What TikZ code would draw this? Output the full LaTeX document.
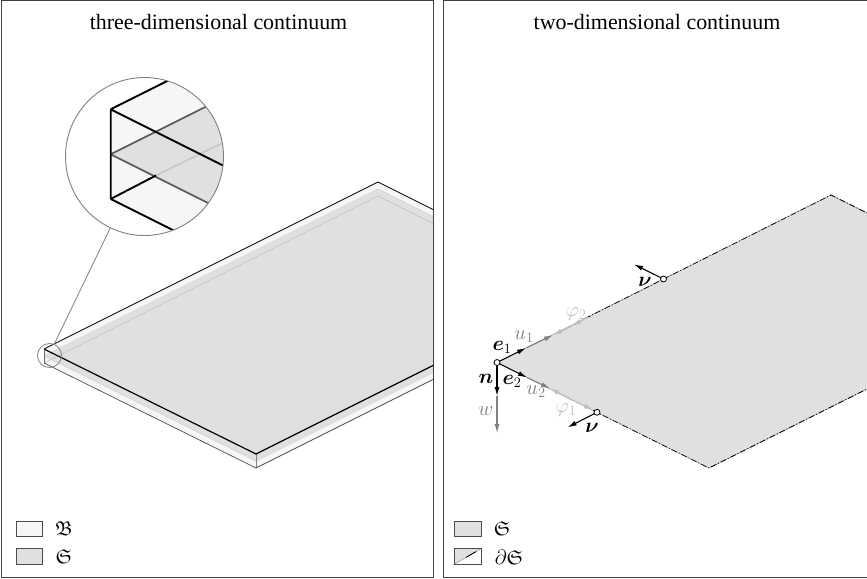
\documentclass[tikz,border=0pt]{standalone}
\usepackage{amsmath,amssymb}
\usepackage{fontspec}
\setmainfont{Liberation Serif}
\usetikzlibrary{arrows.meta}
\definecolor{surf}{HTML}{DFE0DF}
\definecolor{body}{HTML}{F6F6F6}
\tikzset{
  frame/.style={draw=black!75,line width=1pt},
  title/.style={font=\fontsize{22}{24}\selectfont,anchor=center,inner sep=0pt},
  lab/.style={font=\fontsize{20}{22}\selectfont,inner sep=0pt},
  legbox/.style={draw=black!70,line width=0.8pt},
  blk/.style={black,line width=1.1pt,-{Latex[length=9pt,width=5pt]}},
  gra/.style={black!50,line width=1.1pt,-{Latex[length=9pt,width=5pt]}},
  lgt/.style={black!25,line width=1.1pt,-{Latex[length=9pt,width=5pt]}},
  edgebase/.style={black!30,line width=0.7pt},
  edgedash/.style={black,line width=0.7pt,dash pattern=on 6pt off 2pt on 1pt off 2pt},
  hole/.style={circle,draw=black,fill=white,line width=0.8pt,inner sep=0pt,minimum size=6pt},
}
\begin{document}
\begin{tikzpicture}[x=1bp,y=-1bp]
\useasboundingbox (0,0) rectangle (867,579);
% left panel
\node[title] (t1) at (218.5,22) {three-dimensional continuum};
\begin{scope}
\clip (1,1) rectangle (433,577);
\coordinate (Tl) at (44,349); \coordinate (Tb) at (378,182); \coordinate (Tf) at (256,454);
\coordinate (Tr) at (433,209.5); \coordinate (Ts) at (433,365.5);
\coordinate (Ml) at (44,356); \coordinate (Mb) at (378,189); \coordinate (Mf) at (256,461);
\coordinate (Mr) at (433,216.5); \coordinate (Ms) at (433,372.5);
\coordinate (Bl) at (44,363); \coordinate (Bb) at (378,196); \coordinate (Bf) at (256,468);
\coordinate (Br) at (433,223.5); \coordinate (Bs) at (433,379.5);
\fill[body] (Tl)--(Tb)--(Tr)--(Bs)--(Bf)--(Bl)--cycle;
\fill[surf] (Ml)--(Mb)--(Mr)--(Ms)--(Mf)--cycle;
\draw[black!16,line width=0.7pt] (Ml)--(Mb)--(Mr) (Ml)--(Mf)--(Ms);
\draw[black!22,line width=0.7pt] (Bl)--(Bb)--(Br);
\draw[black!50,line width=0.7pt] (Tf)--(Bf);
\draw[black!70,line width=0.7pt] (Bl)--(Bf)--(Bs);
\draw[black,line width=0.8pt] (Tl)--(Tb)--(Tr);
\draw[black,line width=1.2pt] (Tl)--(Tf)--(Ts);
\draw[black!60,line width=0.7pt] (Tl)--(Bl);
\end{scope}
\coordinate (SC) at (49.5,355.5);
\coordinate (BC) at (144.5,156.5);
\draw[black!50,line width=0.8pt] (SC) circle[radius=12];
\draw[black!50,line width=0.8pt] (54.3,344) coordinate (La) -- (110.5,227.5) coordinate (Lb);
% magnified
\begin{scope}
\clip (BC) circle[radius=79];
\coordinate (a1) at (110.7,109.3); \coordinate (a2) at (110.7,154.3); \coordinate (a3) at (110.7,199);
\coordinate (b1) at (210.7,59.3); \coordinate (b2) at (210.7,104.3); \coordinate (b3) at (230,139.3);
\coordinate (c1) at (230,169); \coordinate (c2) at (230,214); \coordinate (c3) at (230,258.6);
\coordinate (x3) at (156,175.5);
\fill[white] (BC) circle[radius=79];
\fill[body] (a1)--(b1)--(240,59.3)--(240,264)--(c3)--(a3)--cycle;
\fill[surf] (a2)--(b2)--(240,100)--(240,220)--(c2)--cycle;
\draw[black!65,line width=1.7pt] (a2)--(b2) (a2)--(c2);
\draw[black!22,line width=1.6pt] (x3)--(b3);
\draw[black,line width=1.9pt] (a3)--(x3);
\draw[black,line width=1.9pt] (a1)--(b1) (a1)--(c1) (a1)--(a3) (a3)--(c3);
\end{scope}
\draw[black!50,line width=0.9pt] (BC) circle[radius=79];
\draw[frame] (1,1) rectangle (433,577);
% left legend
\draw[legbox,fill=body] (16,521) rectangle (42,536.5);
\draw[legbox,fill=surf] (16,548.5) rectangle (42,564.5);
\node[lab] (l1) at (64,529) {$\mathfrak{B}$};
\node[lab] (l2) at (64,557) {$\mathfrak{S}$};
% right panel
\node[title] (t2) at (657,22) {two-dimensional continuum};
\begin{scope}
\clip (443,1) rectangle (867,577);
\coordinate (P0) at (497,362.5); \coordinate (P1) at (831,195); \coordinate (P2) at (709,468);
\coordinate (P3) at (867,213); \coordinate (P4) at (867,389);
\fill[surf] (P0)--(P1)--(P3)--(P4)--(P2)--cycle;
\draw[edgebase] (P0)--(P1)--(P3) (P0)--(P2)--(P4);
\draw[edgedash] (585,318.5)--(P1)--(P3) (593,410.5)--(P2)--(P4);
\end{scope}
\draw[frame] (443,1)--(867,1) (443,1)--(443,577)--(867,577);
\coordinate (Nt) at (663.5,279); \coordinate (Nb) at (597,412.3);
\coordinate (Vt) at (634,264.3); \coordinate (Vb) at (567.7,427.3);
\coordinate (E1) at (526,348); \coordinate (E2) at (527,377.5);
\coordinate (U1) at (553,335); \coordinate (U2) at (550,388.5);
\coordinate (F1) at (572,326); \coordinate (F2) at (572,400);
\coordinate (F1e) at (588,317); \coordinate (F2e) at (593,410);
\coordinate (Nn) at (497,396); \coordinate (Ww) at (497,433);
\draw[lgt] (F1e)--(F1);
\draw[lgt] (F2)--(F2e);
\draw[lgt,line width=1.5pt] (F1)--(U1);
\draw[lgt,line width=1.5pt] (F2)--(U2);
\draw[gra] (E1)--(U1);
\draw[gra] (E2)--(U2);
\draw[gra] (Nn)--(Ww);
\draw[blk] (P0)--(E1);
\draw[blk] (P0)--(E2);
\draw[blk] (P0)--(Nn);
\draw[blk] (Nt)--(Vt);
\draw[blk] (Nb)--(Vb);
\node[hole] (h0) at (P0) {};
\node[hole] (h1) at (Nt) {};
\node[hole] (h2) at (Nb) {};
\node[lab] (le1) at (502,347) {$\boldsymbol{e}_1$};
\node[lab] (le2) at (512,381) {$\boldsymbol{e}_2$};
\node[lab] (ln) at (486,379) {$\boldsymbol{n}$};
\node[lab,text=black!50] (lw) at (486,411) {$w$};
\node[lab,text=black!50] (lu1) at (524,337) {$u_1$};
\node[lab,text=black!50] (lu2) at (536,392) {$u_2$};
\node[lab,text=black!25] (lf2) at (576,314) {$\varphi_2$};
\node[lab,text=black!25] (lf1) at (566,410) {$\varphi_1$};
\node[lab] (lv1) at (645,282) {$\boldsymbol{\nu}$};
\node[lab] (lv2) at (592,428) {$\boldsymbol{\nu}$};
% right legend
\draw[legbox,fill=surf] (454,521) rectangle (481,536.5);
\fill[surf] (454,548.5) rectangle (481,564.5);
\fill[white] (454,564.5)--(481,548.5)--(481,564.5)--cycle;
\coordinate (g1) at (454.5,564); \coordinate (g2) at (480.5,549);
\draw[black!30,line width=1pt] (g1)--(g2);
\coordinate (g3) at (466,557.4); \coordinate (g4) at (476,551.6);
\draw[black,line width=0.8pt] (g3)--(g4);
\draw[legbox] (454,548.5) rectangle (481,564.5);
\node[lab] (l3) at (502,529) {$\mathfrak{S}$};
\node[lab] (l4) at (509,557) {$\partial\mathfrak{S}$};
\end{tikzpicture}
\end{document}
